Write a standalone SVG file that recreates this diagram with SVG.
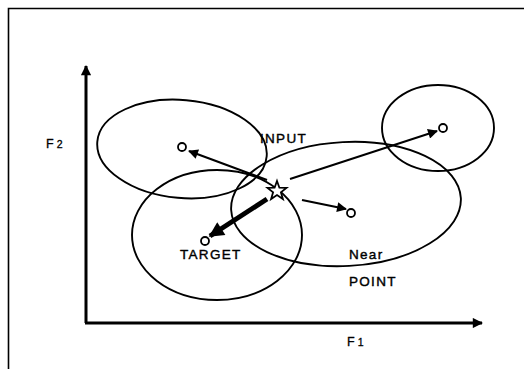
<svg xmlns="http://www.w3.org/2000/svg" width="524" height="369" viewBox="0 0 524 369">
<style>
.lbl{font-family:"Liberation Sans",Arial,sans-serif;font-size:13.5px;fill:#000;stroke:#000;stroke-width:0.4;letter-spacing:1.3px}
.ax{font-family:"Liberation Sans",Arial,sans-serif;font-size:12.5px;fill:#000;stroke:#000;stroke-width:0.3}
.ell{fill:none;stroke:#000;stroke-width:1.9}
.pt{fill:#fff;stroke:#000;stroke-width:1.8}
.arr{stroke:#000;stroke-width:2.2;fill:none}
</style>
<defs>
<marker id="ah" viewBox="0 0 10 10" refX="9" refY="5" markerWidth="5.5" markerHeight="4.5" orient="auto" markerUnits="strokeWidth">
<path d="M0,0 L10,5 L0,10 z" fill="#000"/>
</marker>
<marker id="ahb" viewBox="0 0 10 10" refX="9" refY="5" markerWidth="3.3" markerHeight="3" orient="auto" markerUnits="strokeWidth">
<path d="M0,0 L10,5 L0,10 z" fill="#000"/>
</marker>
<marker id="axh" viewBox="0 0 10 10" refX="9" refY="5" markerWidth="4" markerHeight="3.4" orient="auto" markerUnits="strokeWidth">
<path d="M0,0 L10,5 L0,10 z" fill="#000"/>
</marker>
</defs>
<rect width="524" height="369" fill="#fff"/>
<g id="frame">
<path d="M8.5,369 V8.5 H524" fill="none" stroke="#000" stroke-width="1.6"/>
</g>
<g id="axes">
<line x1="86" y1="323" x2="86" y2="66" stroke="#000" stroke-width="3" marker-end="url(#axh)"/>
<line x1="85" y1="323" x2="482" y2="323" stroke="#000" stroke-width="3" marker-end="url(#axh)"/>
<text class="ax" x="46" y="148">F<tspan font-size="10.5" dx="3">2</tspan></text>
<text class="ax" x="347" y="346">F<tspan font-size="10.5" dx="3">1</tspan></text>
</g>
<g id="ellipse-upper-left"><ellipse class="ell" cx="182" cy="149" rx="85" ry="49" transform="rotate(5 182 149)"/></g>
<g id="ellipse-target"><ellipse class="ell" cx="217" cy="235" rx="85" ry="65"/></g>
<g id="ellipse-input"><ellipse class="ell" cx="346" cy="204" rx="115" ry="62" transform="rotate(-3 346 204)"/></g>
<g id="ellipse-right"><ellipse class="ell" cx="438" cy="128" rx="56" ry="43"/></g>
<g id="connectors">
<line class="arr" x1="267" y1="180" x2="189" y2="151" marker-end="url(#ah)"/>
<line class="arr" x1="290" y1="179" x2="437" y2="131" marker-end="url(#ah)"/>
<line class="arr" x1="302" y1="200" x2="346" y2="209" marker-end="url(#ah)"/>
<line x1="267" y1="199" x2="210" y2="236" stroke="#000" stroke-width="5" marker-end="url(#ahb)"/>
</g>
<g id="point-upper-left"><circle class="pt" cx="182" cy="147" r="4"/></g>
<g id="point-right"><circle class="pt" cx="443" cy="128" r="4"/></g>
<g id="point-mid"><circle class="pt" cx="351" cy="213" r="4"/></g>
<g id="point-target"><circle class="pt" cx="205" cy="241" r="4"/></g>
<g id="star-input">
<path d="M277,181 L279.4,187.7 L286.5,187.9 L280.9,192.3 L282.9,199.1 L277,195.1 L271.1,199.1 L273.1,192.3 L267.5,187.9 L274.6,187.7 Z" fill="#fff" stroke="#000" stroke-width="1.8" stroke-linejoin="miter"/>
</g>
<g id="labels">
<text class="lbl" x="260" y="143">INPUT</text>
<text class="lbl" x="180" y="259">TARGET</text>
<text class="lbl" x="349" y="259">Near</text>
<text class="lbl" x="349" y="286">POINT</text>
</g>
</svg>
